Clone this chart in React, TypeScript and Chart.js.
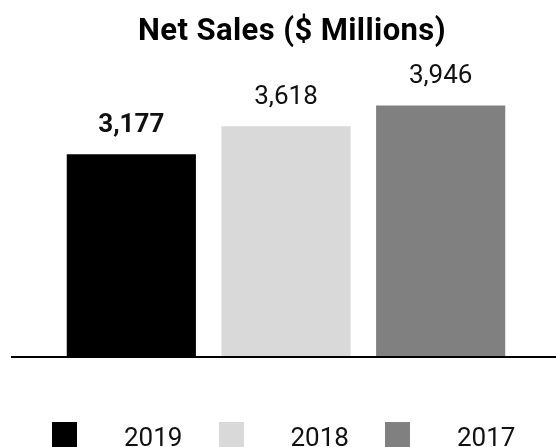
import React, { useEffect, useRef } from "react";
import { Chart, registerables } from "chart.js";

Chart.register(...registerables);

const categories = ["2019", "2018", "2017"];
const netSales = [3177, 3618, 3946];
const yMax = 4800;

const barColors = ["#000000", "#d9d9d9", "#808080"];
const labelWeights = ["bold", "normal", "normal"];
const FONT = "Roboto, 'Noto Sans', sans-serif";

const titleStylePlugin = {
  id: "titleStyle",
  beforeDraw(chart: any) {
    const ctx = chart.ctx;
    ctx.save();
    (ctx as any).letterSpacing = "0.4px";
    ctx.translate(6, 0);
  },
  beforeDatasetsDraw(chart: any) {
    chart.ctx.restore();
  },
};

const valueLabelPlugin = {
  id: "valueLabels",
  afterDatasetsDraw(chart: any) {
    const ctx = chart.ctx;
    const meta = chart.getDatasetMeta(0);
    ctx.save();
    ctx.textAlign = "center";
    ctx.textBaseline = "alphabetic";
    ctx.fillStyle = "#111111";
    meta.data.forEach((bar: any, i: number) => {
      const v = chart.data.datasets[0].data[i] as number;
      ctx.font = `${labelWeights[i]} 26px ${FONT}`;
      ctx.fillText(v.toLocaleString("en-US"), bar.x, bar.y - 22);
    });
    ctx.restore();
  },
};

const baselinePlugin = {
  id: "baseline",
  afterDatasetsDraw(chart: any) {
    const ctx = chart.ctx;
    const y = chart.scales.y.getPixelForValue(0);
    ctx.save();
    ctx.strokeStyle = "#000000";
    ctx.lineWidth = 2;
    ctx.beginPath();
    ctx.moveTo(11, y + 1);
    ctx.lineTo(chart.width, y + 1);
    ctx.stroke();
    ctx.restore();
  },
};

export default function App() {
  const canvasRef = useRef<HTMLCanvasElement | null>(null);

  useEffect(() => {
    if (!canvasRef.current) return;
    const chart = new Chart(canvasRef.current, {
      type: "bar",
      data: {
        labels: categories,
        datasets: [
          {
            data: netSales,
            backgroundColor: barColors,
            borderWidth: 0,
            barPercentage: 0.835,
            categoryPercentage: 1,
          },
        ],
      },
      options: {
        responsive: false,
        animation: false,
        layout: { padding: { top: 13.3, bottom: 91, left: 54, right: 38 } },
        plugins: {
          legend: { display: false },
          tooltip: { enabled: false },
          title: {
            display: true,
            text: "Net Sales ($ Millions)",
            color: "#000000",
            font: { family: FONT, size: 31, weight: "bold", lineHeight: 1.2 },
            padding: { top: 0, bottom: 0.74 },
          },
        },
        scales: {
          x: { display: false },
          y: { display: false, min: 0, max: yMax },
        },
      },
      plugins: [titleStylePlugin, valueLabelPlugin, baselinePlugin],
    });
    return () => chart.destroy();
  }, []);

  return (
    <div
      style={{
        position: "fixed",
        left: 0,
        top: 0,
        width: 556,
        height: 447,
        overflow: "hidden",
        background: "#ffffff",
        fontFamily: FONT,
      }}
    >
      <canvas
        ref={canvasRef}
        width={556}
        height={447}
        style={{ position: "absolute", left: 0, top: 0, width: 556, height: 447 }}
      />
      <div style={{ position: "absolute", left: 52, top: 422, display: "flex" }}>
        {categories.map((c, i) => (
          <div key={c} style={{ width: 166.5, display: "flex", alignItems: "flex-start" }}>
            <div style={{ width: 25, height: 25, background: barColors[i], flex: "none" }} />
            <div
              style={{
                marginLeft: 47,
                marginTop: 1.6,
                fontSize: 26,
                lineHeight: "26px",
                color: "#111111",
              }}
            >
              {c}
            </div>
          </div>
        ))}
      </div>
    </div>
  );
}
